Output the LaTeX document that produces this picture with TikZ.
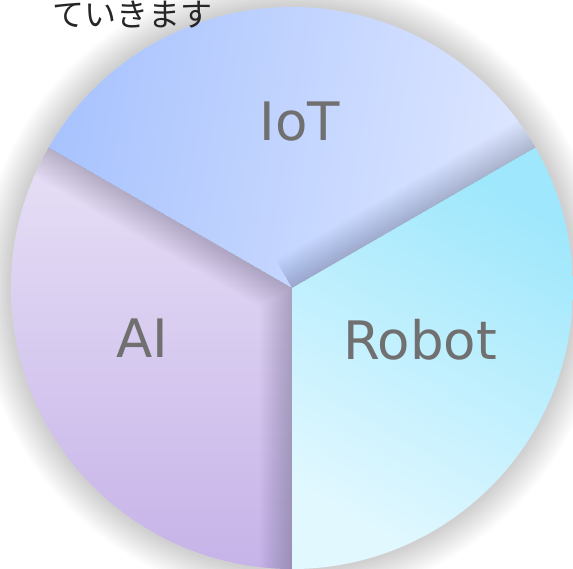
\documentclass[tikz,border=0pt]{standalone}
\usepackage{fontspec}
\setsansfont{DejaVu Sans}
\newfontfamily\jpfont{Noto Sans CJK JP}

\definecolor{iotlo}{HTML}{A8C3FE}
\definecolor{iothi}{HTML}{DDE6FF}
\definecolor{ailo}{HTML}{C6B3E8}
\definecolor{aihi}{HTML}{E7E0F6}
\definecolor{robotlo}{HTML}{E2F8FF}
\definecolor{robothi}{HTML}{9EE7FC}
\definecolor{labelgray}{HTML}{707070}

\tikzset{
  shadowring/.style={fill=black, opacity=0.012},
  shadowband/.style={draw=black, opacity=0.010, line cap=butt},
  slicelabel/.style={text=labelgray, font=\sffamily\fontsize{53}{60}\selectfont}
}

\begin{document}
\begin{tikzpicture}[x=1pt, y=1pt]
    \useasboundingbox (0,0) rectangle (573,-568);
    \clip (0,0) rectangle (573,-568);
    \coordinate (C) at (292,-288);

    % soft shadow round the pie
    \foreach \k in {16,15,...,1}
        \fill[shadowring] (C) circle[radius=281pt+2pt*\k];

    % slices
    \shade[top color=aihi, bottom color=ailo] (C) -- ++(150:281pt) arc[start angle=150, end angle=270, radius=281pt] -- cycle;
    \shade[left color=iotlo, right color=iothi, shading angle=80] (C) -- ++(30:281pt) arc[start angle=30, end angle=150, radius=281pt] -- cycle;
    \shade[top color=robothi, bottom color=robotlo, shading angle=-30] (C) -- ++(270:281pt) arc[start angle=270, end angle=390, radius=281pt] -- cycle;

    % shadows cast across the cuts
    \begin{scope}
        \clip (C) -- ++(150:281pt) arc[start angle=150, end angle=270, radius=281pt] -- cycle;
        \foreach \w in {4,8,...,64}
            \draw[shadowband, line width=\w pt] (C) -- ++(150:300pt) (C) -- ++(270:300pt);
    \end{scope}
    \begin{scope}
        \clip (C) -- ++(30:281pt) arc[start angle=30, end angle=150, radius=281pt] -- cycle;
        \foreach \w in {4,8,...,64}
            \draw[shadowband, line width=\w pt] (C) -- ++(30:300pt);
    \end{scope}

    \node[slicelabel] at (300,-122) (iot) {IoT};
    \node[slicelabel] at (142,-338) (ai) {AI};
    \node[slicelabel] at (420,-340) (robot) {Robot};

    \node[anchor=base west, inner sep=0pt, text=black!85, font=\jpfont\fontsize{32}{36}\selectfont] at (52,-26) (caption) {ていきます};
\end{tikzpicture}
\end{document}
